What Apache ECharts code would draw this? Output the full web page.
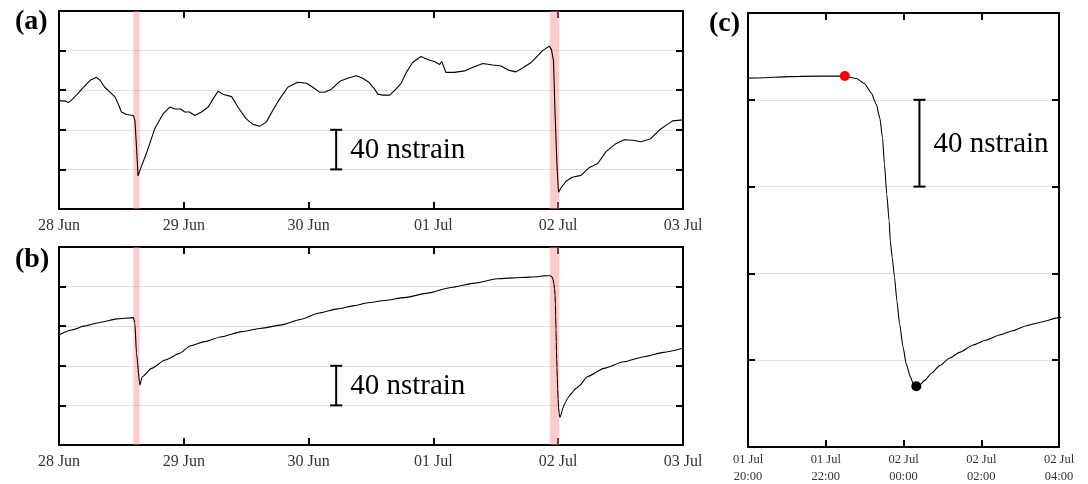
<!DOCTYPE html>
<html>
<head>
<meta charset="utf-8">
<script src="https://cdn.jsdelivr.net/npm/echarts@6/dist/echarts.min.js"></script>
<style>html,body{margin:0;padding:0;background:#fff}#chart{width:1088px;height:484px}</style>
</head>
<body>
<div id="chart"></div>
<script>
// ---- data (hours since 28 Jun 00:00, strain in nstrain on a 0-200 display scale) ----
const dayLabels = ['28 Jun','29 Jun','30 Jun','01 Jul','02 Jul','03 Jul'];
const zoomLabels = ['01 Jul\n20:00','01 Jul\n22:00','02 Jul\n00:00','02 Jul\n02:00','02 Jul\n04:00'];

const aHours = [0,1.2,1.8,2.4,3.7,5,6,7.2,7.9,8.8,9.8,10.8,11.4,12,13,14.3,14.6,14.9,15.2,15.7,16.8,18.4,20,21.3,22.3,23.4,24.2,25.1,26.1,27.4,28.7,29.6,30.6,31.5,33.2,34.4,36,37.3,38.6,39.9,41.1,42.4,44,45.9,47.6,48.8,50.1,51.1,52.4,54,55.5,57.2,58.4,59.6,60.7,61.3,62.3,63.6,64.5,65.8,66.8,68,69.6,70.9,72.2,73.2,73.6,74.4,76,78,79.5,81.5,83.4,85,86.6,87.9,89.3,90.8,92,93,94.3,94.7,95.1,95.4,95.75,96.06,96.5,97.5,98.7,100.4,102,103.6,105.2,107.1,108.7,110.3,111.9,113.8,115.4,116.7,118,120];
const aStrain = [109.5,109,107.5,110,117,124.5,130,133,130,123,118,113,106,98,95.5,94.5,89.5,63,33.5,41,56,81,96,103,101,101,98,98,94.5,98,103,111,119,116,113.5,103,91,85.5,83.5,88,99.5,111,123,128,127,123,118,118,121,129,132,134.5,132,128,121,116,115,115,119.5,127,138,148,154,151,149,146,149,138,138,139.5,143,147,145.5,144.5,140,138.5,143,148,154.5,160,164.5,161,149.5,96,46,17,21,28,32,34,42,46,58,66,70,69.5,68,71,79.5,84.5,89,90];

const bHours = [0,2.4,5,8.1,11.1,14.3,14.6,14.9,15.55,16,17.8,20.4,23.2,25.2,28,31.2,35.1,38.9,42.8,46.6,49.8,53.6,56.8,59.7,62.6,66.4,70.9,75.4,79.9,84.3,88.8,
  92,93.33,94.49,94.79,95.0,95.17,95.3,95.39,95.46,95.51,95.57,95.63,95.66,95.71,95.77,95.83,95.9,95.99,96.07,96.18,96.26,96.33,96.41,96.54,96.72,96.93,97.19,97.44,97.79,98.13,98.47,98.81,99.16,99.5,100,
  101.6,104.8,108.6,112.5,116.3,120];
const bStrain = [111.1,116.2,120.3,124,127.4,128.7,123,92.6,60.5,68.9,77.4,85.8,92.6,100,104.4,109.4,114.5,117.9,121.3,127,133.1,137.5,140.8,143.9,145.9,148.9,153.4,159.1,163.5,167.9,169.2,
  170,170.8,171,169.8,167.4,163.2,157.9,151.7,142.5,130.3,116.5,104.2,95,87.3,78.1,67.4,56.7,45.9,38.3,32.1,28.8,28,28.6,30.6,34,37.5,41,43.6,47,49.3,51.6,53.6,55.9,57.4,59.6,
  68.9,77.4,84.1,89.2,93.6,97.7];

const bands = [[14.3,15.5],[94.4,96.2]];
const onsetPoint = [94.49,171];
const minPoint = [96.33,28];
const scaleA = [53.3,40,80];
const scaleB = [53.3,40,80];
const scaleC = [96.41,120,160];
const scaleText = '40 nstrain';

// ---- chart ----
const SERIF = 'Liberation Serif';
function zip(x,y){return x.map((v,i)=>[v,y[i]]);}

function xAxis(grid,pos,min,max,interval,labels,isZoom){
  const show = pos==='bottom';
  return {
    type:'value', gridIndex:grid, position:pos, min:min, max:max, interval:interval,
    axisLine:{show:true,onZero:false,lineStyle:{color:'#000',width:2}},
    axisTick:{show:true,inside:true,length:7,lineStyle:{color:'#000',width:2}},
    splitLine:{show:false},
    axisLabel:{show:show,margin:isZoom?3.5:8,color:'#333',fontFamily:SERIF,
      fontSize:isZoom?12.5:16,lineHeight:isZoom?17.5:18,hideOverlap:false,
      formatter:function(v){return labels[Math.round((v-min)/interval)];}}
  };
}
function yAxis(grid,pos){
  return {
    type:'value', gridIndex:grid, position:pos, min:0, max:200, interval:40,
    axisLine:{show:true,onZero:false,lineStyle:{color:'#000',width:2}},
    axisTick:{show:true,inside:true,length:7,lineStyle:{color:'#000',width:2}},
    axisLabel:{show:false},
    splitLine:{show:pos==='left',lineStyle:{color:'#e0e0e0',width:1}}
  };
}
function scaleBar(xi,yi,bar){
  return {
    type:'custom', xAxisIndex:xi, yAxisIndex:yi, z:5, silent:true,
    data:[bar],
    renderItem:function(params,api){
      const p1=api.coord([api.value(0),api.value(1)]);
      const p2=api.coord([api.value(0),api.value(2)]);
      const hw=6, st={stroke:'#000',lineWidth:2};
      return {type:'group',children:[
        {type:'line',shape:{x1:p1[0],y1:p1[1],x2:p2[0],y2:p2[1]},style:st},
        {type:'line',shape:{x1:p1[0]-hw,y1:p1[1],x2:p1[0]+hw,y2:p1[1]},style:st},
        {type:'line',shape:{x1:p2[0]-hw,y1:p2[1],x2:p2[0]+hw,y2:p2[1]},style:st},
        {type:'text',x:p1[0]+14,y:(p1[1]+p2[1])/2+1,
          style:{text:scaleText,fill:'#000',font:'29px '+SERIF,textAlign:'left',textVerticalAlign:'middle'}}
      ]};
    }
  };
}
function bandSeries(xi,yi){
  return {
    type:'line', xAxisIndex:xi, yAxisIndex:yi, data:[], z:1, silent:true,
    markArea:{silent:true,itemStyle:{color:'rgba(250,140,140,0.45)'},
      data:bands.map(b=>[{xAxis:b[0]},{xAxis:b[1]}])}
  };
}
function lineSeries(xi,yi,data,smooth){
  return {
    type:'line', xAxisIndex:xi, yAxisIndex:yi, data:data, z:3,
    showSymbol:false, symbol:'none', smooth:smooth, smoothMonotone:'x', clip:true,
    lineStyle:{color:'#000',width:1.1}
  };
}

const chart = echarts.init(document.getElementById('chart'),null,{renderer:'canvas'});
chart.setOption({
  animation:false,
  backgroundColor:'#fff',
  grid:[
    {left:59,top:11,width:624,height:198,containLabel:false,outerBoundsMode:'none'},
    {left:59,top:247,width:624,height:198,containLabel:false,outerBoundsMode:'none'},
    {left:748,top:13,width:311,height:434,containLabel:false,outerBoundsMode:'none'}
  ],
  xAxis:[
    xAxis(0,'bottom',0,120,24,dayLabels,false),
    xAxis(0,'top',0,120,24,dayLabels,false),
    xAxis(1,'bottom',0,120,24,dayLabels,false),
    xAxis(1,'top',0,120,24,dayLabels,false),
    xAxis(2,'bottom',92,100,2,zoomLabels,true),
    xAxis(2,'top',92,100,2,zoomLabels,true)
  ],
  yAxis:[
    yAxis(0,'left'),yAxis(0,'right'),
    yAxis(1,'left'),yAxis(1,'right'),
    yAxis(2,'left'),yAxis(2,'right')
  ],
  graphic:[
    {type:'text',left:15,top:8,style:{text:'(a)',font:'bold 28px '+SERIF,fill:'#000'}},
    {type:'text',left:15,top:246,style:{text:'(b)',font:'bold 28px '+SERIF,fill:'#000'}},
    {type:'text',left:709,top:10,style:{text:'(c)',font:'bold 28px '+SERIF,fill:'#000'}}
  ],
  series:[
    bandSeries(0,0),
    bandSeries(2,2),
    lineSeries(0,0,zip(aHours,aStrain),false),
    lineSeries(2,2,zip(bHours,bStrain),0.2),
    lineSeries(4,4,zip(bHours,bStrain),0.2),
    {type:'scatter',xAxisIndex:4,yAxisIndex:4,data:[onsetPoint],symbolSize:10,z:6,itemStyle:{color:'#ff0000',opacity:1}},
    {type:'scatter',xAxisIndex:4,yAxisIndex:4,data:[minPoint],symbolSize:10,z:6,itemStyle:{color:'#000',opacity:1}},
    scaleBar(0,0,scaleA),
    scaleBar(2,2,scaleB),
    scaleBar(4,4,scaleC)
  ]
});
</script>
</body>
</html>
